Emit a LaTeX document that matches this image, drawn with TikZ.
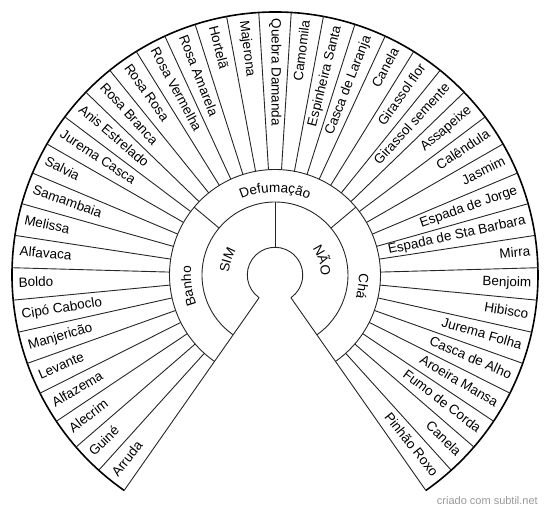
\documentclass[tikz,border=0pt]{standalone}
\usepackage{fontspec}
\setmainfont{Liberation Sans}
\usetikzlibrary{decorations.text}
\newcommand\lblfont{\fontsize{13.5}{16}\selectfont}
\begin{document}
\begin{tikzpicture}[x=1pt,y=1pt,
  ln/.style={draw=black!85, line width=0.9pt},
  rim/.style={draw=black, line width=1.6pt},
  lblbase/.style={font=\lblfont, inner sep=0pt, text height=.95em, text depth=.25em},
  lblL/.style={lblbase, anchor=west},
  lblR/.style={lblbase, anchor=east},
  arctext/.style={decorate, decoration={text along path, text align=center, text={|\lblfont|#1}}},
  credit/.style={font=\fontsize{11}{13}\selectfont, text=black!40, inner sep=0pt, anchor=east}
]
\useasboundingbox (0,0) rectangle (550,512);
\begin{scope}[shift={(275,237)}]
  \coordinate (O) at (0,0);
  % rings
  \draw[ln] (235:27.7) arc[start angle=235, end angle=-55, radius=27.7];
  \draw[ln] (235:73) arc[start angle=235, end angle=-55, radius=73];
  \draw[ln] (235:105.5) arc[start angle=235, end angle=-55, radius=105.5];
  \draw[rim] (235:263) arc[start angle=235, end angle=-55, radius=263];
  % side boundaries
  \draw[ln] (235:27.7) -- (235:263);
  \draw[ln] (-55:27.7) -- (-55:263);
  % inner split
  \draw[ln] (90:27.7) -- (90:73);
  % middle splits
  \draw[ln] (140:73) -- (140:105.5);
  \draw[ln] (40:73) -- (40:105.5);
  % outer splits
  \foreach \k in {1,...,40} {
    \pgfmathsetmacro\ang{235-\k*290/41}
    \draw[ln] (\ang:105.5) -- (\ang:263);
  }
  % inner labels
  \path[arctext={SIM}] (200:46) arc[start angle=200, end angle=125, radius=46];
  \path[arctext={NÃO}] (55:46) arc[start angle=55, end angle=-20, radius=46];
  % middle labels
  \path[arctext={Banho}] (225:84) arc[start angle=225, end angle=150, radius=84];
  \path[arctext={Defumação}] (135:83) arc[start angle=135, end angle=45, radius=83];
  \path[arctext={Chá}] (30:84) arc[start angle=30, end angle=-45, radius=84];
  % outer labels
  \foreach \t [count=\i] in {Arruda, Guiné, Alecrim, Alfazema, Levante, Manjericão, Cipó Caboclo, Boldo, Alfavaca, Melissa, Samambaia, Salvia, Jurema Casca, Anis Estrelado, Rosa Branca, Rosa Rosa, Rosa Vermelha, Rosa Amarela, Hortelã, Majerona, Quebra Damanda, Camomila, Espinheira Santa, Casca de Laranja, Canela, Girassol flor, Girassol semente, Assapeixe, Calêndula, Jasmim, Espada de Jorge, Espada de Sta Barbara, Mirra, Benjoim, Hibisco, Jurema Folha, Casca de Alho, Aroeira Mansa, Fumo de Corda, Canela, Pinhão Roxo} {
    \pgfmathsetmacro\ang{235-(\i-0.5)*290/41}
    \ifdim\ang pt>89.9pt
      \node[lblL, rotate=\ang+180] (L\i) at (\ang:256.5) {\t};
    \else
      \node[lblR, rotate=\ang] (L\i) at (\ang:256.5) {\t};
    \fi
  }
\end{scope}
\node[credit] (cr) at (538,11) {criado com subtil.net};
\end{tikzpicture}
\end{document}
